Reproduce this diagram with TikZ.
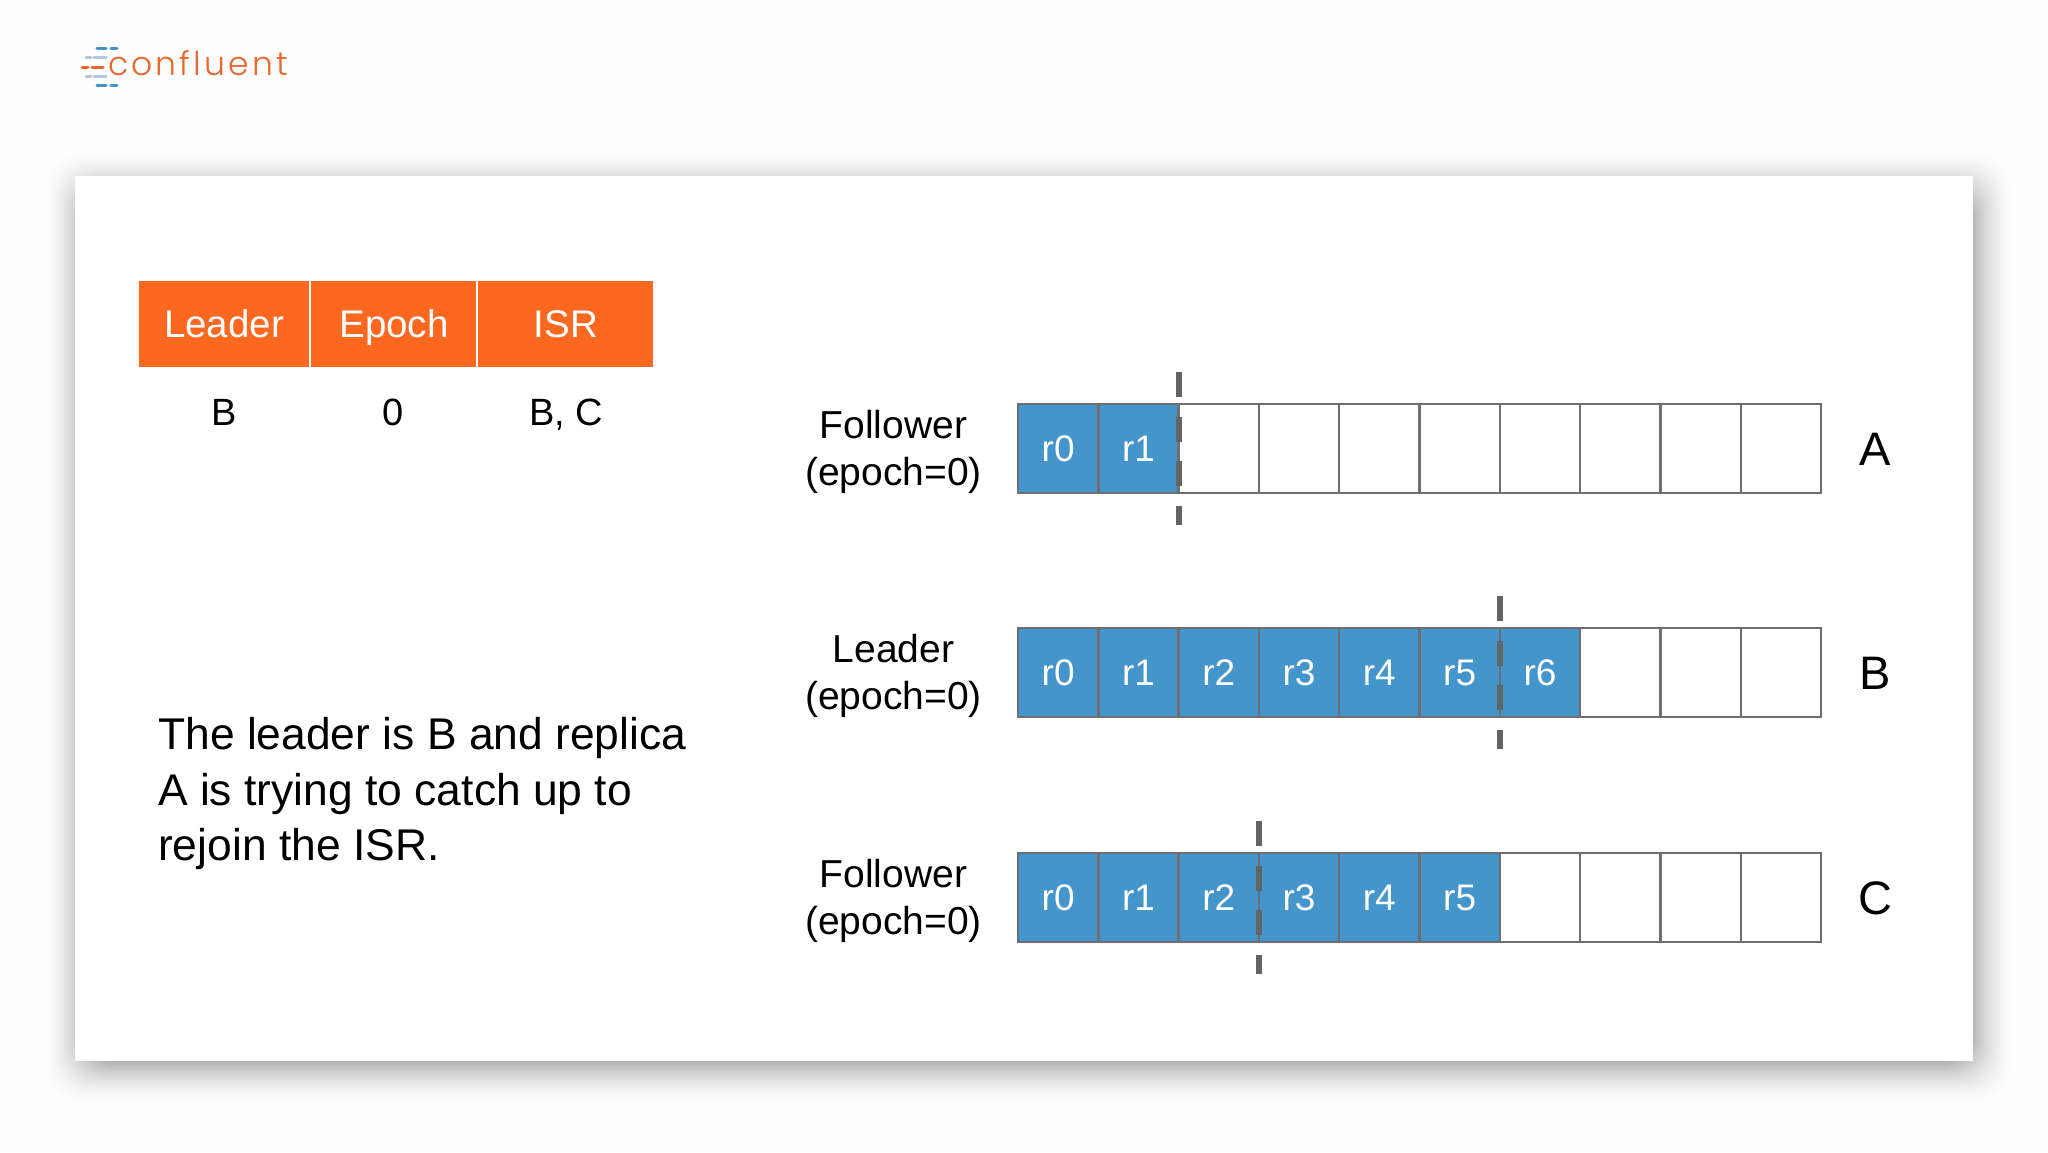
\documentclass[tikz,border=0pt]{standalone}
\usepackage{fontspec}
\setmainfont{Liberation Sans}
\newfontfamily\logofont[LetterSpace=9.5]{Poppins Light}
\usetikzlibrary{calc}
\definecolor{pagebg}{HTML}{FEFDFE}
\definecolor{hdr}{HTML}{FD6820}
\definecolor{logoorange}{HTML}{E8672B}
\definecolor{cellblue}{HTML}{4495CB}
\definecolor{linegray}{HTML}{6D6E71}
\definecolor{tickgray}{HTML}{636466}
\definecolor{logoblue}{HTML}{3F93C7}
\definecolor{logolight}{HTML}{B3C6E0}
\definecolor{shadowc}{HTML}{3A363C}
\tikzset{
  x=1pt,y=-1pt,
  hdrcell/.style={fill=hdr,inner sep=0,outer sep=0,minimum height=86pt},
  hdrtext/.style={inner sep=0,anchor=base,text=white,font=\fontsize{38.5}{47}\selectfont},
  valtext/.style={inner sep=0,anchor=base,font=\fontsize{38}{46}\selectfont},
  logcell/.style={draw=linegray,line width=2.4pt,inner sep=0,outer sep=0,minimum width=80.3pt,minimum height=89pt},
  usedcell/.style={logcell,fill=cellblue},
  freecell/.style={logcell,fill=white},
  celltext/.style={inner sep=0,anchor=base,text=white,font=\fontsize{37}{45}\selectfont},
  rolelabel/.style={inner sep=0,align=center,font=\fontsize{39}{47}\selectfont},
  replname/.style={inner sep=0,font=\fontsize{47}{56}\selectfont},
  bodytext/.style={inner sep=0,align=left,font=\fontsize{44.4}{55.7}\selectfont},
  hw/.style={draw=tickgray,line width=6pt,dash pattern=on 25pt off 19.5pt},
  logodash/.style={line width=3pt,line cap=round},
}
\begin{document}
\begin{tikzpicture}
\useasboundingbox (0,0) rectangle (2048,1152);
\fill[pagebg] (0,0) rectangle (2048,1152);
% card shadow
\foreach \i in {1,...,40}{
  \pgfmathsetmacro{\ins}{46*(\i/40)^.52}
  \fill[shadowc,opacity=.0095,rounded corners=34pt]
    ({40+\ins},{148+\ins}) rectangle ({2017-\ins},{1107-\ins});
}
% card
\fill[white] (74.5,176) rectangle (1973,1061);
% logo
\node[inner sep=0,anchor=base west,text=logoorange,font=\logofont\fontsize{33}{40}\selectfont] (logo) at (108,75) {confluent};
\draw[logodash,logoblue] (97,48) -- (106,48) (111,48) -- (117,48) (97,85) -- (106,85) (111,85) -- (117,85);
\draw[logodash,logolight] (86,57) -- (91,57) (94,57) -- (106,57) (86,76) -- (91,76) (94,76) -- (106,76);
\draw[logodash,logoorange] (82,67) -- (88,67) (92,67) -- (103,67);
% table
\node[hdrcell,minimum width=170pt] (hLeader) at (224,324) {};
\node[hdrcell,minimum width=165pt] (hEpoch) at (393.5,324) {};
\node[hdrcell,minimum width=175pt] (hISR) at (565.5,324) {};
\node[hdrtext] (tLeader) at (224,337) {Leader};
\node[hdrtext] (tEpoch) at (394,337) {Epoch};
\node[hdrtext] (tISR) at (566,337) {ISR};
\node[valtext] (vLeader) at (224,425) {B};
\node[valtext] (vEpoch) at (393.5,425) {0};
\node[valtext] (vISR) at (566,425) {B, C};
% body
\node[bodytext,anchor=north west] (body) at (158,717) {The leader is B and replica\\A is trying to catch up to\\rejoin the ISR.};
% logs
\foreach \row/\top/\used/\role/\letter in {A/404/2/Follower/A,B/628/7/Leader/B,C/853/6/Follower/C}{
  \foreach \k in {0,...,9}{
    \pgfmathtruncatemacro{\isused}{\k<\used ? 1 : 0}
    \ifnum\isused=1
      \node[usedcell] (\row\k) at ({1018+80.3*(\k+.5)},{\top+44.5}) {};
      \node[celltext] (\row t\k) at ({1018+80.3*(\k+.5)},{\top+57}) {r\k};
    \else
      \node[freecell] (\row\k) at ({1018+80.3*(\k+.5)},{\top+44.5}) {};
    \fi
  }
  \node[rolelabel] (\row role) at (893.5,{\top+48}) {\role\\(epoch=0)};
  \node[replname,anchor=base] (\row name) at (1875,{\top+61}) {\letter};
}
% high watermarks
\foreach \row/\top/\x in {A/404/1179,B/628/1500,C/853/1259}{
  \coordinate (\row hs) at (\x,{\top-32});
  \coordinate (\row he) at (\x,{\top+121});
  \draw[hw] (\row hs) -- (\row he);
}
\end{tikzpicture}
\end{document}
